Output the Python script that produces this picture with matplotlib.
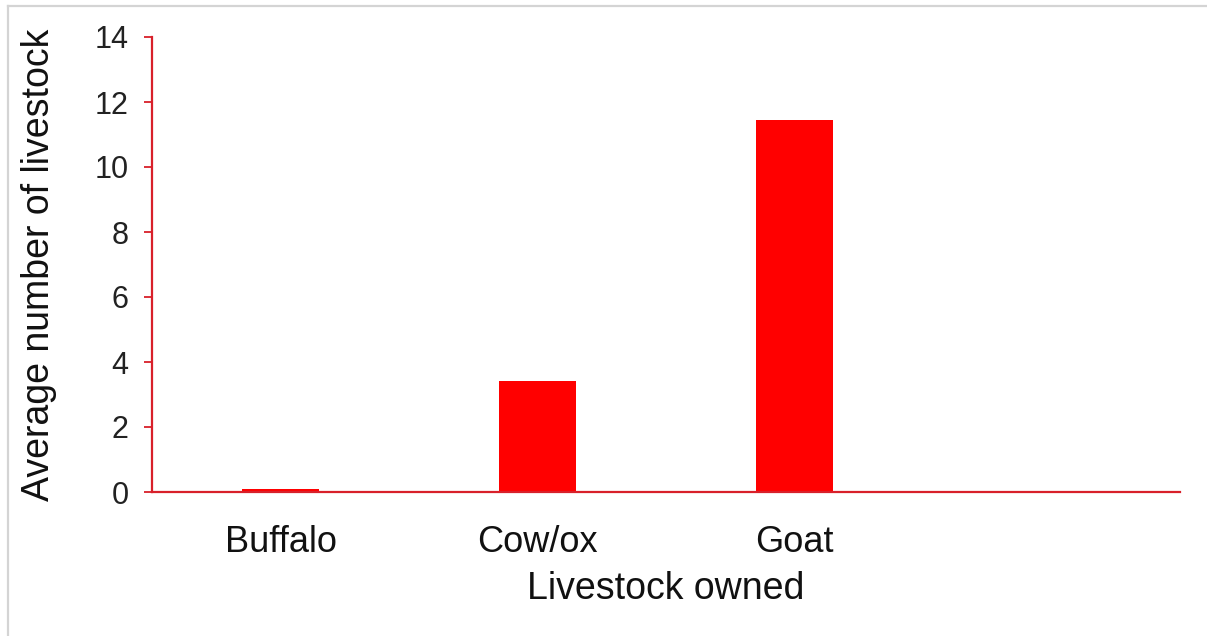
import matplotlib
matplotlib.use("Agg")
import matplotlib.pyplot as plt
from matplotlib.lines import Line2D

categories = ["Buffalo", "Cow/ox", "Goat", ""]
values = [0.08, 3.42, 11.45, 0.0]

plt.rcParams['font.family'] = ['Liberation Sans', 'DejaVu Sans']

fig = plt.figure(figsize=(12.07, 6.36), dpi=100)
# light frame: top and left edges only
fig.lines.append(Line2D([7.5/1207, 1.0], [1 - 6/636, 1 - 6/636], transform=fig.transFigure,
                        color='#d4d4d4', linewidth=1.6))
fig.lines.append(Line2D([7.5/1207, 7.5/1207], [0.0, 1 - 6/636], transform=fig.transFigure,
                        color='#d4d4d4', linewidth=1.6))

ax = fig.add_axes([152/1207, 1 - 492/636, (1180 - 152)/1207, (492 - 37)/636])

x = list(range(len(categories)))
ax.bar(x, values, width=0.3, color='#ff0000', edgecolor='none')

ax.set_xlim(-0.5, len(categories) - 0.5)
ax.set_ylim(0, 14)
ax.set_yticks(range(0, 15, 2))
ax.set_xticks(x)
ax.set_xticklabels(categories)

axis_red = '#d8202a'
for s in ['top', 'right']:
    ax.spines[s].set_visible(False)
ax.spines['left'].set_color(axis_red)
ax.spines['bottom'].set_color(axis_red)
ax.spines['left'].set_linewidth(1.6)
ax.spines['bottom'].set_linewidth(1.6)

ax.tick_params(axis='y', colors=axis_red, labelcolor='#222222', labelsize=22,
               length=6, width=1.3, pad=11)
ax.tick_params(axis='x', length=0, labelsize=26, labelcolor='#111111', pad=24)

ax.set_ylabel("Average number of livestock", fontsize=27, color='#111111', labelpad=27)
ax.set_xlabel("Livestock owned", fontsize=27, color='#111111', labelpad=8)

fig.savefig("out.png", dpi=100)
